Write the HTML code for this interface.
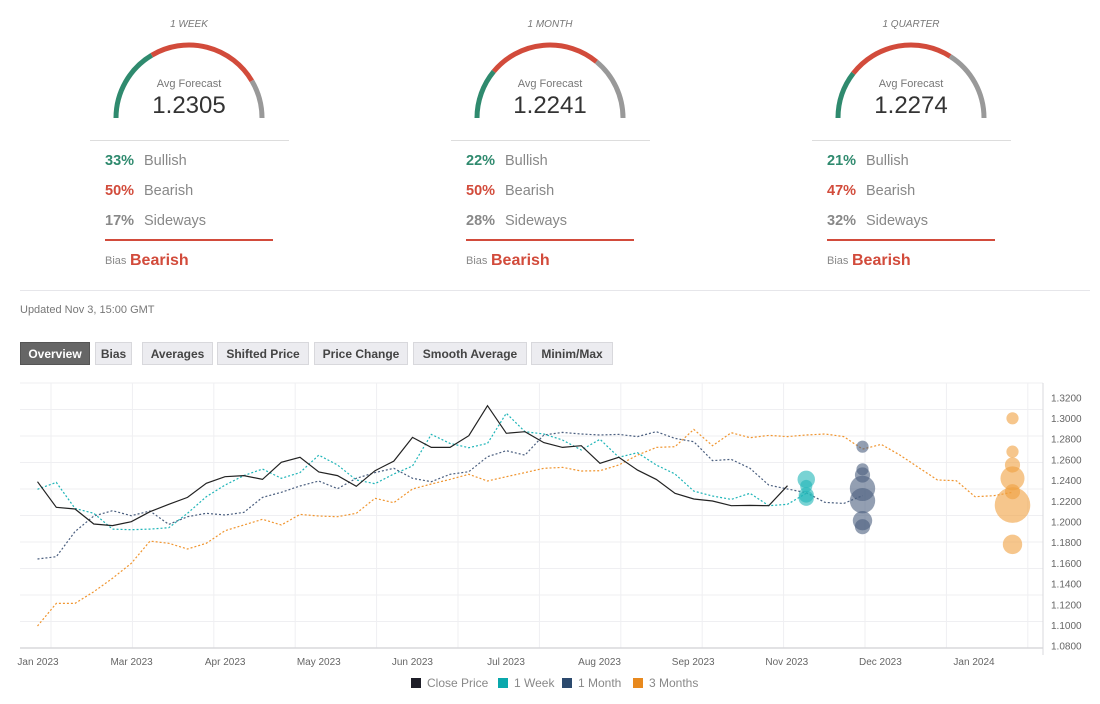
<!DOCTYPE html>
<html><head><meta charset="utf-8">
<style>
body{margin:0;width:1100px;height:704px;background:#fff;font-family:"Liberation Sans",sans-serif;overflow:hidden;position:relative}
.abs{position:absolute}
.ttl{font-size:10px;font-style:italic;color:#777;width:200px;text-align:center}
.avgl{font-size:11px;color:#777;width:200px;text-align:center}
.avgv{font-size:24px;color:#333;width:200px;text-align:center}
.row{font-size:14.5px;color:#888}
.row b{display:inline-block;width:38px}
.btn{position:absolute;top:342px;height:23px;line-height:23px;background:#ececf0;border:1px solid #d8d8dc;box-sizing:border-box;font-size:12px;font-weight:bold;color:#444;text-align:center}
</style></head><body>
<div id="gauges"></div>
<div class="abs" style="left:20px;top:290px;width:1070px;height:1px;background:#e6e6ea"></div>
<div class="abs" style="left:20px;top:304px;font-size:11px;color:#777">Updated Nov 3, 15:00 GMT</div>
<div class="btn" style="left:20px;width:70px;background:#666;color:#fff;border-color:#555">Overview</div>
<div class="btn" style="left:95px;width:37px">Bias</div>
<div class="btn" style="left:142px;width:71px">Averages</div>
<div class="btn" style="left:217px;width:92px">Shifted Price</div>
<div class="btn" style="left:314px;width:94px">Price Change</div>
<div class="btn" style="left:413px;width:114px">Smooth Average</div>
<div class="btn" style="left:531px;width:82px">Minim/Max</div>
<svg id="chart" class="abs" style="left:0;top:0" width="1100" height="704"></svg>
<script>
const panels=[{t:"1 WEEK",v:"1.2305",p:[33,50,17],cx:189},{t:"1 MONTH",v:"1.2241",p:[22,50,28],cx:550},{t:"1 QUARTER",v:"1.2274",p:[21,47,32],cx:911}];
const months=["Jan 2023","Mar 2023","Apr 2023","May 2023","Jun 2023","Jul 2023","Aug 2023","Sep 2023","Nov 2023","Dec 2023","Jan 2024"];
const yTicks=[1.32,1.30,1.28,1.26,1.24,1.22,1.20,1.18,1.16,1.14,1.12,1.10,1.08];
const closePrice=[1.2385,1.2137,1.2121,1.1976,1.1960,1.1998,1.2095,1.2166,1.2233,1.2369,1.2433,1.2443,1.2407,1.2572,1.2620,1.2478,1.2443,1.2340,1.2491,1.2584,1.2813,1.2716,1.2716,1.2829,1.3119,1.2852,1.2868,1.2762,1.2716,1.2732,1.2562,1.2620,1.2497,1.2407,1.2272,1.2217,1.2198,1.2153,1.2156,1.2153,1.2346];
const week1=[1.2311,1.2378,1.2127,1.2079,1.1927,1.1921,1.1927,1.1940,1.2079,1.2240,1.2352,1.2443,1.2507,1.2417,1.2472,1.2642,1.2546,1.2401,1.2365,1.2459,1.2536,1.2842,1.2755,1.2713,1.2755,1.3045,1.2868,1.2845,1.2787,1.2691,1.2794,1.2620,1.2665,1.2546,1.2459,1.2294,1.2246,1.2214,1.2272,1.2153,1.2166,1.2272];
const month1=[1.1638,1.1660,1.1902,1.2053,1.2104,1.2056,1.2101,1.1972,1.2046,1.2079,1.2063,1.2088,1.2233,1.2282,1.2343,1.2391,1.2317,1.2417,1.2472,1.2514,1.2417,1.2385,1.2456,1.2481,1.2626,1.2684,1.2642,1.2836,1.2861,1.2845,1.2836,1.2842,1.2820,1.2868,1.2803,1.2771,1.2588,1.2600,1.2514,1.2352,1.2314,1.2278,1.2185,1.2175,1.2249];
const month3=[1.0990,1.1209,1.1209,1.1322,1.1451,1.1596,1.1811,1.1789,1.1734,1.1789,1.1911,1.1966,1.2021,1.1966,1.2069,1.2053,1.2046,1.2079,1.2224,1.2182,1.2314,1.2362,1.2407,1.2456,1.2391,1.2433,1.2472,1.2514,1.2523,1.2488,1.2491,1.2546,1.2642,1.2716,1.2723,1.2890,1.2732,1.2858,1.2810,1.2832,1.2820,1.2836,1.2845,1.2820,1.2700,1.2745,1.2642,1.2520,1.2401,1.2394,1.2240,1.2249,1.2282];
const bubWeekV=[1.2407,1.2343,1.2256,1.2224];
const bubWeekN=[3,1,2,2];
const bubMonthV=[1.2723,1.2504,1.2449,1.2320,1.2201,1.2008,1.1950];
const bubMonthN=[1,1,2,8,8,4,2];
const bubQV=[1.2997,1.2675,1.2546,1.2417,1.2288,1.2159,1.1779];
const bubQN=[1,1,2,7,2,18,4];

const NS="http://www.w3.org/2000/svg";
const svg=document.getElementById('chart');
function mk(tag,attrs,parent){const e=document.createElementNS(NS,tag);for(const k in attrs)e.setAttribute(k,attrs[k]);(parent||svg).appendChild(e);return e;}
function txt(x,y,s,attrs){const e=mk('text',Object.assign({x:x,y:y},attrs));e.textContent=s;return e;}
// gauges
const cols=["#2f8a6e","#d24b3b","#999"];
panels.forEach((p,k)=>{
  const g=mk('g',{});
  
  
  const cx=p.cx,cy=118,r=73;let a0=Math.PI;
  p.p.forEach((pc,i)=>{const a1=a0-Math.PI*pc/100;
    const path=mk('path',{d:`M${cx+r*Math.cos(a0)} ${cy-r*Math.sin(a0)} A${r} ${r} 0 0 1 ${cx+r*Math.cos(a1)} ${cy-r*Math.sin(a1)}`,fill:'none',stroke:cols[i],'stroke-width':5},g);
    
    
    a0=a1;});
  const t=txt(cx,27,p.t,{'text-anchor':'middle','font-size':10,'font-style':'italic',fill:'#777'},);
  
  const l=txt(cx,87,'Avg Forecast',{'text-anchor':'middle','font-size':11,fill:'#777'});
  
  const v=txt(cx,113,p.v,{'text-anchor':'middle','font-size':24,fill:'#333'});
  
  const sep=mk('rect',{x:cx-99,y:140,width:199,height:1,fill:'#ddd'});
  
  const names=["Bullish","Bearish","Sideways"],pc=["#2f8a6e","#d24b3b","#888"];
  names.forEach((n,i)=>{const y=165+30*i;
    const a=txt(cx-84,y,p.p[i]+'%',{'font-size':14.5,'font-weight':'bold',fill:pc[i]});
    
    const b=txt(cx-45,y,n,{'font-size':14.5,fill:'#888'});
    });
  const rl=mk('rect',{x:cx-84,y:239,width:168,height:2,fill:'#d24b3b'});
  
  const bl=txt(cx-84,264,'Bias',{'font-size':11,fill:'#888'});
  
  const bv=txt(cx-59,265,'Bearish',{'font-size':16,'font-weight':'bold',fill:'#d24b3b'});
  
});
// chart axes
const X0=37.5,DX=18.75;
const xs=i=>X0+i*DX;
const ys=v=>397.3+(1.32-v)/0.02*20.7;
for(let i=0;i<11;i++){const y=383+i*26.5;const gl=mk('line',{x1:20,x2:1043,y1:y,y2:y,stroke:'#efeff2'});
  }
for(let i=0;i<13;i++){const x=51+i*81.4;const gl=mk('line',{x1:x,x2:x,y1:383,y2:648,stroke:'#efeff2'});
  }
const ax=mk('line',{x1:20,x2:1043,y1:648,y2:648,stroke:'#d8d8dc','stroke-width':1.5});

const ay=mk('line',{x1:1043,x2:1043,y1:383,y2:655,stroke:'#d8d8dc'});

yTicks.forEach(v=>{const t=txt(1051,ys(v)+4,v.toFixed(4),{'font-size':10,fill:'#666'});
  });
months.forEach((m,i)=>{const t=txt(38+i*93.6,665,m,{'font-size':10,fill:'#666','text-anchor':'middle'});
  });
function line(data,color,dash,name,w){const d=data.map((v,i)=>(i?'L':'M')+xs(i).toFixed(1)+' '+ys(v).toFixed(1)).join(' ');
  const p=mk('path',{d:d,fill:'none',stroke:color,'stroke-width':w||1.2});if(dash)p.setAttribute('stroke-dasharray',dash);
  }
line(month3,'#f0952f','2 2','three-months-line');
line(month1,'#4b5f7f','2 2','one-month-line');
line(week1,'#1fb5b8','2 2','one-week-line');
line(closePrice,'#222','', 'close-price-line');
function bubbles(vals,ns,idx,color,name){vals.forEach((v,i)=>{const c=mk('circle',{cx:xs(idx),cy:ys(v),r:2.5+Math.sqrt(ns[i])*3.6,fill:color,'fill-opacity':0.6});
  });}
bubbles(bubWeekV,bubWeekN,41,'#1fb5b8','one-week-bubble');
bubbles(bubMonthV,bubMonthN,44,'#4b5f7f','one-month-bubble');
bubbles(bubQV,bubQN,52,'#f0a040','three-months-bubble');
// legend
const leg=[["Close Price","#1e1e28",411],["1 Week","#0aa8ac",498],["1 Month","#2c4a6e",562],["3 Months","#e8891e",633]];
leg.forEach(l=>{const g=mk('g',{});
  mk('rect',{x:l[2],y:678,width:10,height:10,fill:l[1]},g);
  const t=txt(l[2]+16,687,l[0],{'font-size':12,fill:'#888'});g.appendChild(t);});
</script>
</body></html>
